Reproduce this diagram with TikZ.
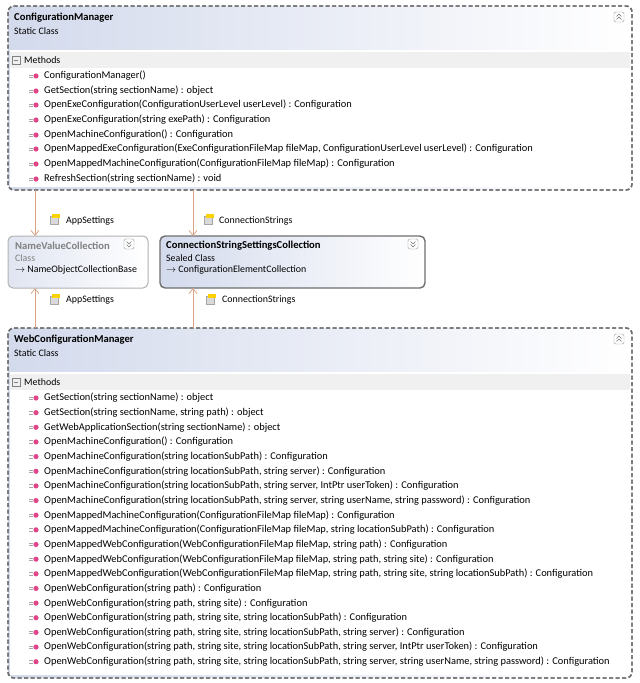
\documentclass[tikz,border=0pt]{standalone}
\usepackage{fontspec}
\setmainfont{Carlito}
\usetikzlibrary{arrows.meta}

\definecolor{hdrblue}{HTML}{D3DAEC}
\definecolor{lnk}{HTML}{D9A58A}
\definecolor{boxgray}{HTML}{6E6E6E}

\tikzset{
  member/.style={anchor=west, font=\fontsize{10.4}{11}\selectfont, inner sep=0pt},
  title/.style={anchor=west, font=\fontsize{10.6}{11}\selectfont\bfseries, inner sep=0pt},
  sub/.style={anchor=west, font=\fontsize{9.9}{10}\selectfont, inner sep=0pt},
  static/.style={draw=boxgray, line width=1.4pt, dash pattern=on 4pt off 2.5pt, rounded corners=6pt},
  assoc/.style={draw=lnk, line width=0.8pt, -{Straight Barb[length=5pt,width=8pt]}},
}

% method icon and collapse button
\newcommand{\methicon}[1]{%
  \draw[gray!70, line width=0.6pt] ($(#1)+(-15,-1.2)$) -- ++(4,0) ($(#1)+(-15,1.2)$) -- ++(4,0);
  \fill[magenta!60!purple!80] ($(#1)+(-8,0)$) circle (2.6pt);
}
\newcommand{\btn}[1]{%
  \draw[gray!80, fill=white, rounded corners=1.5pt] ($(#1)+(-5,-5)$) rectangle ($(#1)+(5,5)$);
  \draw[gray!90!black, line width=0.6pt] ($(#1)+(-2.5,-0.5)$) -- ++(2.5,-2.5) -- ++(2.5,2.5)
    ($(#1)+(-2.5,2.5)$) -- ++(2.5,-2.5) -- ++(2.5,2.5);
}
\newcommand{\btnd}[1]{%
  \draw[gray!80, fill=white, rounded corners=1.5pt] ($(#1)+(-5,-5)$) rectangle ($(#1)+(5,5)$);
  \draw[gray!90!black, line width=0.6pt] ($(#1)+(-2.5,-2.5)$) -- ++(2.5,2.5) -- ++(2.5,-2.5)
    ($(#1)+(-2.5,0.5)$) -- ++(2.5,2.5) -- ++(2.5,-2.5);
}
\newcommand{\propicon}[1]{%
  \fill[gray!30] ($(#1)+(-4,-4)$) rectangle ($(#1)+(4,4)$);
  \draw[gray!70] ($(#1)+(-4,-4)$) rectangle ($(#1)+(4,4)$);
  \fill[yellow!70!orange] ($(#1)+(-2,-6)$) rectangle ($(#1)+(6,-2)$);
}
\usetikzlibrary{calc}

\begin{document}
\begin{tikzpicture}[x=1pt, y=-1pt]
	\useasboundingbox (0,0) rectangle (640,683);

	% ConfigurationManager
	\path[static, left color=hdrblue, right color=white] (8,6) rectangle (632,190);
	\fill[white] (10,50) rectangle (630,187);
	\fill[gray!12] (10,52) rectangle (630,68);
	\draw[static] (8,6) rectangle (632,190);
	\node[title] (cmTitle) at (14,18) {ConfigurationManager};
	\node[sub] (cmKind) at (14,31) {Static Class};
	\btn{619,17}
	\draw[gray] (12,56) rectangle (20,64); \draw[gray] (14,60) -- (18,60);
	\node[sub] (cmMeth) at (24,60) {Methods};
	\foreach \y/\txt in {76/{ConfigurationManager()},
		91/{GetSection(string sectionName) : object},
		105/{OpenExeConfiguration(ConfigurationUserLevel userLevel) : Configuration},
		120/{OpenExeConfiguration(string exePath) : Configuration},
		135/{OpenMachineConfiguration() : Configuration},
		149/{OpenMappedExeConfiguration(ExeConfigurationFileMap fileMap, ConfigurationUserLevel userLevel) : Configuration},
		164/{OpenMappedMachineConfiguration(ConfigurationFileMap fileMap) : Configuration},
		179/{RefreshSection(string sectionName) : void}}{
		\node[member] at (44,\y) {\txt};
		\methicon{44,\y}
	}

	% NameValueCollection
	\draw[gray!60, line width=1pt, rounded corners=5pt, left color=hdrblue!70, right color=white] (8,236) rectangle (148,288);
	\node[title, text=gray] (nvc) at (15,246) {NameValueCollection};
	\node[sub, text=gray] (nvcKind) at (15,258) {Class};
	\node[sub] (nvcBase) at (15,270) {$\to$ NameObjectCollectionBase};
	\btnd{129,244}

	% ConnectionStringSettingsCollection
	\draw[boxgray, line width=1.4pt, rounded corners=5pt, left color=hdrblue, right color=white] (160,236) rectangle (425,288);
	\node[title] (cssc) at (166,246) {ConnectionStringSettingsCollection};
	\node[sub] (csscKind) at (166,258) {Sealed Class};
	\node[sub] (csscBase) at (166,270) {$\to$ ConfigurationElementCollection};
	\btnd{413,244}

	% WebConfigurationManager
	\path[static, left color=hdrblue, right color=white] (8,328) rectangle (632,678);
	\fill[white] (10,372) rectangle (630,675);
	\fill[gray!12] (10,374) rectangle (630,390);
	\draw[static] (8,328) rectangle (632,678);
	\node[title] (wcmTitle) at (14,340) {WebConfigurationManager};
	\node[sub] (wcmKind) at (14,353) {Static Class};
	\btn{619,339}
	\draw[gray] (12,378) rectangle (20,386); \draw[gray] (14,382) -- (18,382);
	\node[sub] (wcmMeth) at (24,382) {Methods};
	\foreach \i/\txt in {0/{GetSection(string sectionName) : object},
		1/{GetSection(string sectionName, string path) : object},
		2/{GetWebApplicationSection(string sectionName) : object},
		3/{OpenMachineConfiguration() : Configuration},
		4/{OpenMachineConfiguration(string locationSubPath) : Configuration},
		5/{OpenMachineConfiguration(string locationSubPath, string server) : Configuration},
		6/{OpenMachineConfiguration(string locationSubPath, string server, IntPtr userToken) : Configuration},
		7/{OpenMachineConfiguration(string locationSubPath, string server, string userName, string password) : Configuration},
		8/{OpenMappedMachineConfiguration(ConfigurationFileMap fileMap) : Configuration},
		9/{OpenMappedMachineConfiguration(ConfigurationFileMap fileMap, string locationSubPath) : Configuration},
		10/{OpenMappedWebConfiguration(WebConfigurationFileMap fileMap, string path) : Configuration},
		11/{OpenMappedWebConfiguration(WebConfigurationFileMap fileMap, string path, string site) : Configuration},
		12/{OpenMappedWebConfiguration(WebConfigurationFileMap fileMap, string path, string site, string locationSubPath) : Configuration},
		13/{OpenWebConfiguration(string path) : Configuration},
		14/{OpenWebConfiguration(string path, string site) : Configuration},
		15/{OpenWebConfiguration(string path, string site, string locationSubPath) : Configuration},
		16/{OpenWebConfiguration(string path, string site, string locationSubPath, string server) : Configuration},
		17/{OpenWebConfiguration(string path, string site, string locationSubPath, string server, IntPtr userToken) : Configuration},
		18/{OpenWebConfiguration(string path, string site, string locationSubPath, string server, string userName, string password) : Configuration}}{
		\node[member] at (44,398+14.65*\i) {\txt};
		\methicon{44,398+14.65*\i}
	}

	% associations
	\coordinate (cmA) at (35,190);   \coordinate (nvcT) at (35,236);
	\coordinate (cmC) at (193,190);  \coordinate (csscT) at (193,236);
	\coordinate (wcmA) at (35,328);  \coordinate (nvcB) at (35,288);
	\coordinate (wcmC) at (193,328); \coordinate (csscB) at (193,288);
	\draw[assoc] (cmA) -- (nvcT);
	\draw[assoc] (cmC) -- (csscT);
	\draw[assoc] (wcmA) -- (nvcB);
	\draw[assoc] (wcmC) -- (csscB);
	\propicon{54,220} \node[sub] (lAS1) at (66,221) {AppSettings};
	\propicon{208,220} \node[sub] (lCS1) at (219,221) {ConnectionStrings};
	\propicon{54,300} \node[sub] (lAS2) at (66,300) {AppSettings};
	\propicon{210,300} \node[sub] (lCS2) at (222,300) {ConnectionStrings};
\end{tikzpicture}
\end{document}
